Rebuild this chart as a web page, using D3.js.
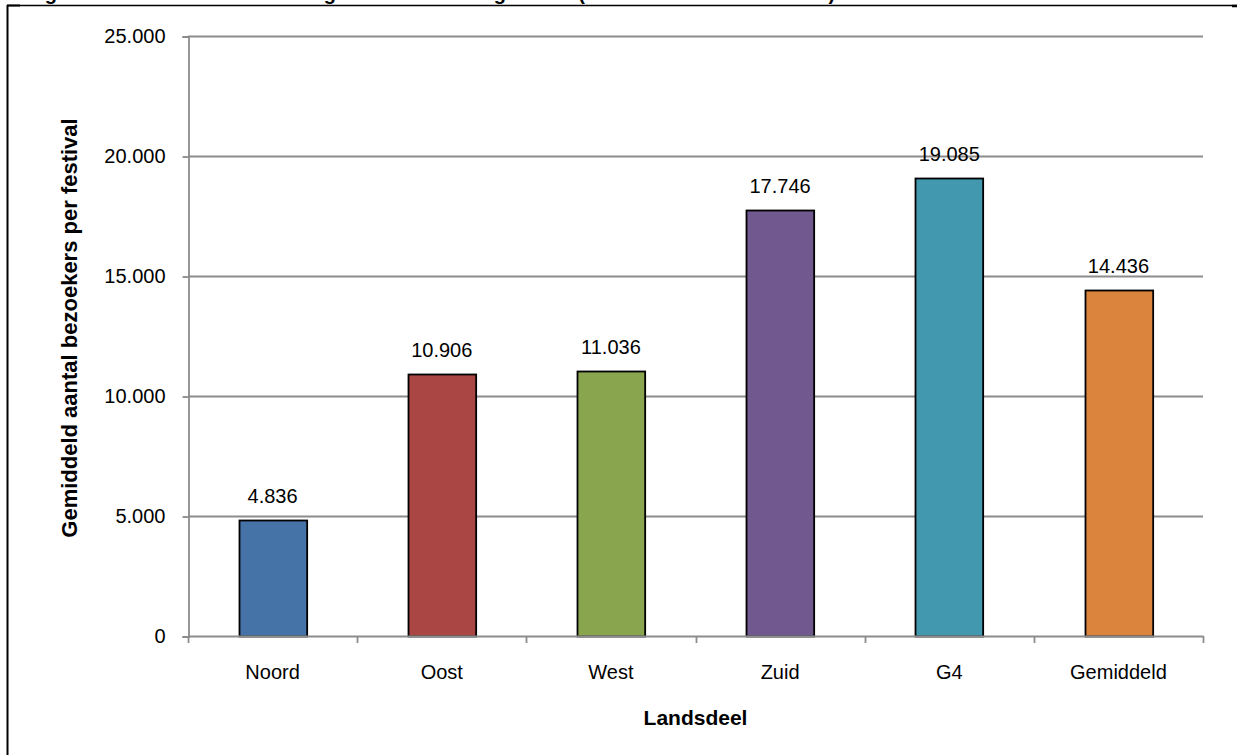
<!DOCTYPE html>
<html>
<head>
<meta charset="utf-8">
<script src="https://cdn.jsdelivr.net/npm/d3@7"></script>
<style>
  html, body { margin: 0; padding: 0; background: #fff; }
  svg { display: block; font-family: "Liberation Sans", Arial, sans-serif; }
</style>
</head>
<body>
<svg id="chart" width="1237" height="755"></svg>
<script>
const categories = ["Noord", "Oost", "West", "Zuid", "G4", "Gemiddeld"];
const values = [4836, 10906, 11036, 17746, 19085, 14436];
const colors = ["#4572A7", "#AA4643", "#89A54E", "#71588F", "#4198AF", "#DB843D"];
const yTicks = [0, 5000, 10000, 15000, 20000, 25000];
const titleText = "Figuur 4.12 Gemiddelde omvang festivals naar regio 2011 (aantal bezoekers in totaal)";
const yTitle = "Gemiddeld aantal bezoekers per festival";
const xTitle = "Landsdeel";

const svg = d3.select("#chart");
const fmt = v => d3.format(",")(v).replace(/,/g, ".");

const pLeft = 188, pRight = 1203, pTop = 36, pBottom = 636;
const gridCol = "#8c8c8c";

const x = d3.scaleBand().domain(categories).range([pLeft, pRight]).paddingInner(0.6).paddingOuter(0.3);
const xOuter = d3.scaleBand().domain(categories).range([pLeft, pRight]);
const y = d3.scaleLinear().domain([0, 25000]).range([pBottom, pTop]);

// frame / table borders
svg.append("line").attr("x1", 7).attr("x2", 1237).attr("y1", 5.5).attr("y2", 5.5)
  .attr("stroke", "#000").attr("stroke-width", 1.3);
svg.append("line").attr("x1", 7.5).attr("x2", 7.5).attr("y1", 5).attr("y2", 755)
  .attr("stroke", "#000").attr("stroke-width", 2);
svg.append("line").attr("x1", 7).attr("x2", 20).attr("y1", 5.5).attr("y2", 5.5)
  .attr("stroke", "#000").attr("stroke-width", 2);
svg.append("line").attr("x1", 1232).attr("x2", 1237).attr("y1", 6).attr("y2", 6)
  .attr("stroke", "#000").attr("stroke-width", 2.5);

// title (clipped by the top edge, as in the reference)
svg.append("text").attr("x", 27).attr("y", -0.5)
  .attr("font-size", 20).attr("font-weight", "bold").attr("fill", "#000")
  .text(titleText);

// gridlines
svg.append("g").selectAll("line").data(yTicks.filter(d => d > 0)).join("line")
  .attr("x1", pLeft).attr("x2", pRight)
  .attr("y1", d => Math.round(y(d)) + 0.5).attr("y2", d => Math.round(y(d)) + 0.5)
  .attr("stroke", gridCol).attr("stroke-width", 1.8);

// y axis
const yAxis = svg.append("g").attr("transform", `translate(${pLeft + 0.5},0.5)`)
  .call(d3.axisLeft(y).tickValues(yTicks).tickFormat(fmt).tickSize(6).tickPadding(17));
yAxis.select(".domain").attr("stroke", gridCol).attr("stroke-width", 1.8);
yAxis.selectAll(".tick line").attr("stroke", gridCol).attr("stroke-width", 1.8);
yAxis.selectAll(".tick text").attr("font-size", 20).attr("fill", "#000")
  .attr("font-family", "Liberation Sans, Arial, sans-serif");

// bars
svg.append("g").selectAll("rect").data(values).join("rect")
  .attr("x", (d, i) => Math.round(x(categories[i])) + 0.5)
  .attr("y", d => Math.round(y(d)) + 0.5)
  .attr("width", x.bandwidth())
  .attr("height", d => pBottom - Math.round(y(d)))
  .attr("fill", (d, i) => colors[i])
  .attr("stroke", "#000").attr("stroke-width", 1.8);

// value labels
svg.append("g").selectAll("text").data(values).join("text")
  .attr("x", (d, i) => x(categories[i]) + x.bandwidth() / 2)
  .attr("y", d => y(d) - 17)
  .attr("text-anchor", "middle").attr("font-size", 20).attr("fill", "#000")
  .text(d => fmt(d));

// x axis
const boundaries = categories.map(c => xOuter(c)).concat([pRight]);
const xg = svg.append("g");
xg.append("line").attr("x1", pLeft).attr("x2", pRight + 0.5)
  .attr("y1", pBottom + 0.5).attr("y2", pBottom + 0.5)
  .attr("stroke", gridCol).attr("stroke-width", 1.8);
xg.selectAll("line.t").data(boundaries).join("line").attr("class", "t")
  .attr("x1", d => Math.round(d) + 0.5).attr("x2", d => Math.round(d) + 0.5)
  .attr("y1", pBottom).attr("y2", pBottom + 7)
  .attr("stroke", gridCol).attr("stroke-width", 1.8);
xg.selectAll("text").data(categories).join("text")
  .attr("x", d => x(d) + x.bandwidth() / 2)
  .attr("y", 679)
  .attr("text-anchor", "middle").attr("font-size", 20).attr("fill", "#000")
  .text(d => d);

// axis titles
svg.append("text")
  .attr("transform", `translate(77,328) rotate(-90)`)
  .attr("text-anchor", "middle").attr("font-size", 22).attr("font-weight", "bold")
  .text(yTitle);
svg.append("text").attr("x", (pLeft + pRight) / 2).attr("y", 725)
  .attr("text-anchor", "middle").attr("font-size", 21).attr("font-weight", "bold")
  .text(xTitle);
</script>
</body>
</html>
